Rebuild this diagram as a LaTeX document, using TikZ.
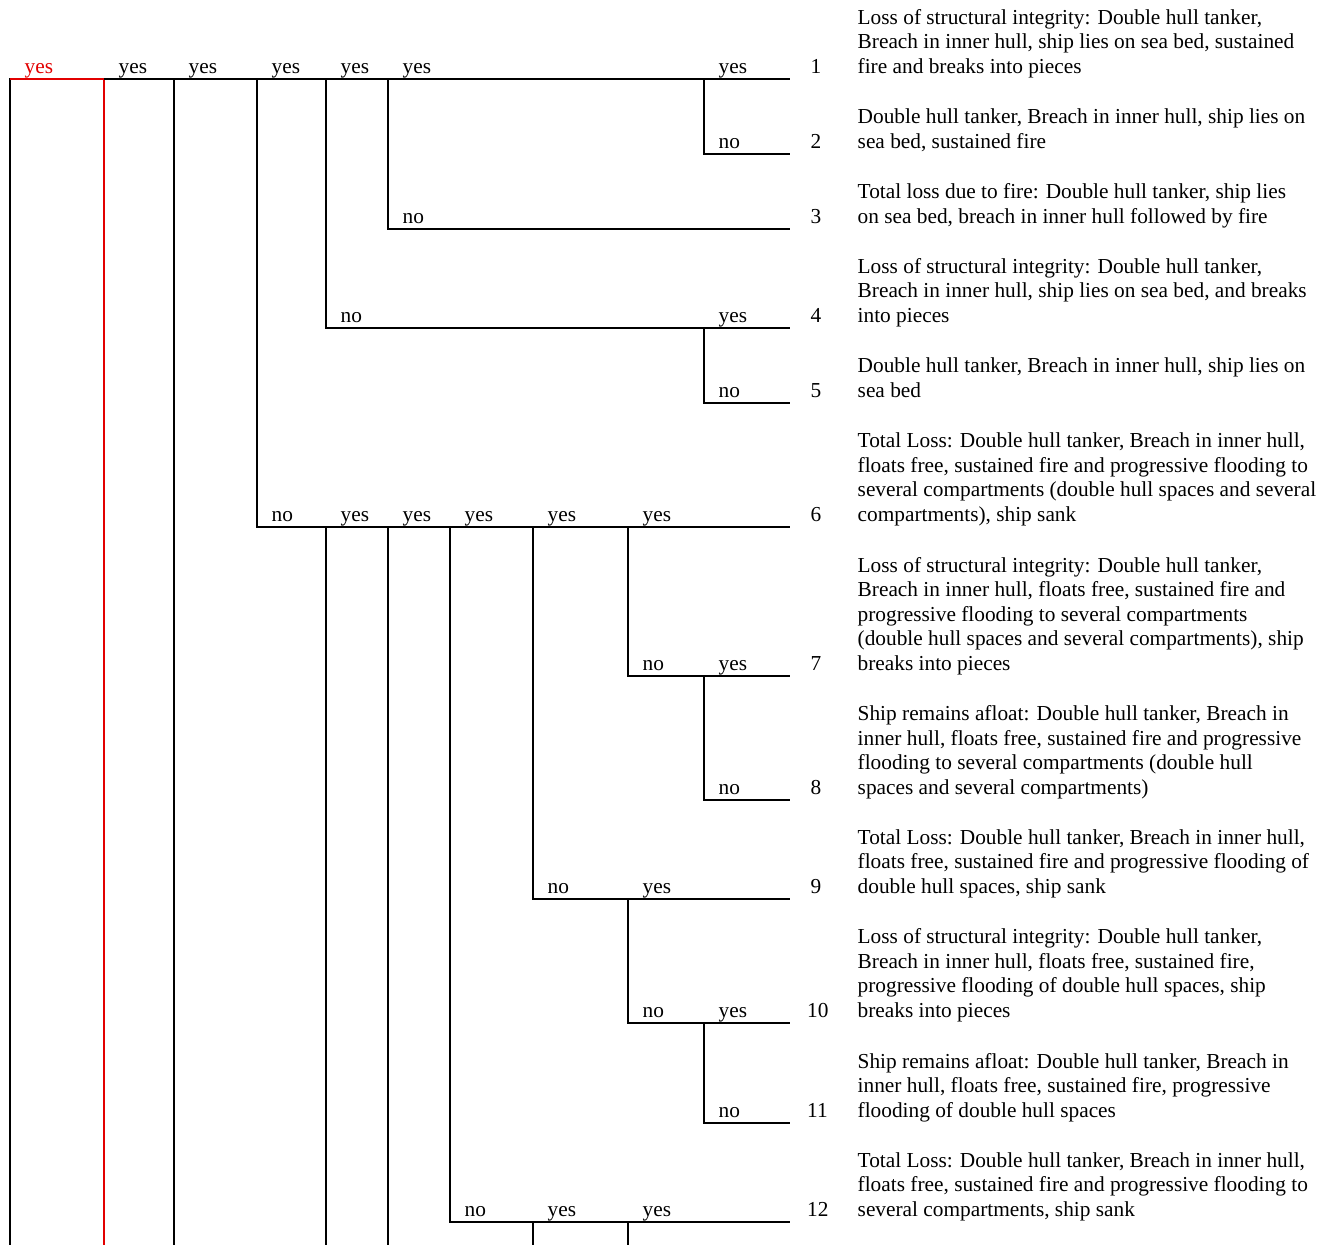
\documentclass[tikz,border=0pt]{standalone}
\usepackage{fontspec}
\setmainfont{Liberation Serif}
\definecolor{myred}{RGB}{226,0,0}
\newcommand\treefont{\fontsize{21.33}{24.6}\selectfont}
\tikzset{
  br/.style={line width=2pt},
  redbr/.style={line width=2pt, draw=myred},
  lbl/.style={anchor=base west, inner sep=0pt, font=\treefont},
  redlbl/.style={lbl, text=myred},
  num/.style={anchor=base west, inner sep=0pt, font=\treefont},
  desc/.style={anchor=base west, inner sep=0pt, font=\treefont},
}
\newcommand\desctext[1]{\parbox[b]{480pt}{\raggedright #1}}
\begin{document}
\begin{tikzpicture}[x=1pt,y=-1pt]
\useasboundingbox (0,0) rectangle (1333,1245);
% ---- junction coordinates ----
\coordinate (root) at (10,79);
\coordinate (rootT) at (10,78);
\coordinate (a104) at (104,79);
\coordinate (a174) at (174,79);
\coordinate (a257) at (257,79);
\coordinate (a326) at (326,79);
\coordinate (a388) at (388,79);
\coordinate (a704) at (704,79);
\coordinate (e1) at (790,79);
\coordinate (b704) at (704,154);  \coordinate (e2) at (790,154);
\coordinate (c388) at (388,229);  \coordinate (e3) at (790,229);
\coordinate (d326) at (326,328);  \coordinate (d704) at (704,328); \coordinate (e4) at (790,328);
\coordinate (f704) at (704,403);  \coordinate (e5) at (790,403);
\coordinate (g257) at (257,527);  \coordinate (g326) at (326,527); \coordinate (g388) at (388,527);
\coordinate (g450) at (450,527);  \coordinate (g533) at (533,527); \coordinate (g628) at (628,527);
\coordinate (e6) at (790,527);
\coordinate (h628) at (628,676);  \coordinate (h704) at (704,676); \coordinate (e7) at (790,676);
\coordinate (i704) at (704,800);  \coordinate (e8) at (790,800);
\coordinate (j533) at (533,899);  \coordinate (j628) at (628,899); \coordinate (e9) at (790,899);
\coordinate (k628) at (628,1023); \coordinate (k704) at (704,1023); \coordinate (e10) at (790,1023);
\coordinate (m704) at (704,1123); \coordinate (e11) at (790,1123);
\coordinate (n450) at (450,1222); \coordinate (n533) at (533,1222); \coordinate (n628) at (628,1222);
\coordinate (e12) at (790,1222);
% bottom free ends
\coordinate (z10) at (10,1245);   \coordinate (z104) at (104,1245); \coordinate (z174) at (174,1245);
\coordinate (z326) at (326,1245); \coordinate (z388) at (388,1245);
\coordinate (z533) at (533,1245); \coordinate (z628) at (628,1245);

% ---- branches ----
\draw[br] (rootT) -- (z10);
\draw[redbr] (root) -- (a104) -- (z104);
\draw[br] (a104) -- (e1);
\draw[br] (a174) -- (z174);
\draw[br] (a257) -- (g257) -- (e6);
\draw[br] (a326) -- (d326) -- (e4);
\draw[br] (a388) -- (c388) -- (e3);
\draw[br] (a704) -- (b704) -- (e2);
\draw[br] (d704) -- (f704) -- (e5);
\draw[br] (g326) -- (z326);
\draw[br] (g388) -- (z388);
\draw[br] (g450) -- (n450) -- (e12);
\draw[br] (g533) -- (j533) -- (e9);
\draw[br] (g628) -- (h628) -- (e7);
\draw[br] (h704) -- (i704) -- (e8);
\draw[br] (j628) -- (k628) -- (e10);
\draw[br] (k704) -- (m704) -- (e11);
\draw[br] (n533) -- (z533);
\draw[br] (n628) -- (z628);

% ---- branch labels ----
\node[redlbl] (l1a) at (24.5,73.5) {yes};
\node[lbl] (l1b) at (118.5,73.5) {yes};
\node[lbl] (l1c) at (188.5,73.5) {yes};
\node[lbl] (l1d) at (271.5,73.5) {yes};
\node[lbl] (l1e) at (340.5,73.5) {yes};
\node[lbl] (l1f) at (402.5,73.5) {yes};
\node[lbl] (l1g) at (718.5,73.5) {yes};
\node[lbl] (l2a) at (718.5,148.5) {no};
\node[lbl] (l3a) at (402.5,223.5) {no};
\node[lbl] (l4a) at (340.5,322.5) {no};
\node[lbl] (l4b) at (718.5,322.5) {yes};
\node[lbl] (l5a) at (718.5,397.5) {no};
\node[lbl] (l6a) at (271.5,521.5) {no};
\node[lbl] (l6b) at (340.5,521.5) {yes};
\node[lbl] (l6c) at (402.5,521.5) {yes};
\node[lbl] (l6d) at (464.5,521.5) {yes};
\node[lbl] (l6e) at (547.5,521.5) {yes};
\node[lbl] (l6f) at (642.5,521.5) {yes};
\node[lbl] (l7a) at (642.5,670.5) {no};
\node[lbl] (l7b) at (718.5,670.5) {yes};
\node[lbl] (l8a) at (718.5,794.5) {no};
\node[lbl] (l9a) at (547.5,893.5) {no};
\node[lbl] (l9b) at (642.5,893.5) {yes};
\node[lbl] (l10a) at (642.5,1017.5) {no};
\node[lbl] (l10b) at (718.5,1017.5) {yes};
\node[lbl] (l11a) at (718.5,1117.5) {no};
\node[lbl] (l12a) at (464.5,1216.5) {no};
\node[lbl] (l12b) at (547.5,1216.5) {yes};
\node[lbl] (l12c) at (642.5,1216.5) {yes};

% ---- outcome numbers ----
\node[num] (n1) at (810.5,73.5) {1};
\node[num] (n2) at (810.5,148.5) {2};
\node[num] (n3) at (810.5,223.5) {3};
\node[num] (n4) at (810.5,322.5) {4};
\node[num] (n5) at (810.5,397.5) {5};
\node[num] (n6) at (810.5,521.5) {6};
\node[num] (n7) at (810.5,670.5) {7};
\node[num] (n8) at (810.5,794.5) {8};
\node[num] (n9) at (810.5,893.5) {9};
\node[num] (n10) at (807,1017.5) {10};
\node[num] (n11) at (807,1117.5) {11};
\node[num] (n12) at (807,1216.5) {12};

% ---- outcome descriptions ----
\node[desc] (d1) at (857.5,73.5) {\desctext{Loss of structural integrity: Double hull tanker,\\Breach in inner hull, ship lies on sea bed, sustained\\fire and breaks into pieces}};
\node[desc] (d2) at (857.5,148.5) {\desctext{Double hull tanker, Breach in inner hull, ship lies on\\sea bed, sustained fire}};
\node[desc] (d3) at (857.5,223.5) {\desctext{Total loss due to fire: Double hull tanker, ship lies\\on sea bed, breach in inner hull followed by fire}};
\node[desc] (d4) at (857.5,322.5) {\desctext{Loss of structural integrity: Double hull tanker,\\Breach in inner hull, ship lies on sea bed, and breaks\\into pieces}};
\node[desc] (d5) at (857.5,397.5) {\desctext{Double hull tanker, Breach in inner hull, ship lies on\\sea bed}};
\node[desc] (d6) at (857.5,521.5) {\desctext{Total Loss: Double hull tanker, Breach in inner hull,\\floats free, sustained fire and progressive flooding to\\several compartments (double hull spaces and several\\compartments), ship sank}};
\node[desc] (d7) at (857.5,670.5) {\desctext{Loss of structural integrity: Double hull tanker,\\Breach in inner hull, floats free, sustained fire and\\progressive flooding to several compartments\\(double hull spaces and several compartments), ship\\breaks into pieces}};
\node[desc] (d8) at (857.5,794.5) {\desctext{Ship remains afloat: Double hull tanker, Breach in\\inner hull, floats free, sustained fire and progressive\\flooding to several compartments (double hull\\spaces and several compartments)}};
\node[desc] (d9) at (857.5,893.5) {\desctext{Total Loss: Double hull tanker, Breach in inner hull,\\floats free, sustained fire and progressive flooding of\\double hull spaces, ship sank}};
\node[desc] (d10) at (857.5,1017.5) {\desctext{Loss of structural integrity: Double hull tanker,\\Breach in inner hull, floats free, sustained fire,\\progressive flooding of double hull spaces, ship\\breaks into pieces}};
\node[desc] (d11) at (857.5,1117.5) {\desctext{Ship remains afloat: Double hull tanker, Breach in\\inner hull, floats free, sustained fire, progressive\\flooding of double hull spaces}};
\node[desc] (d12) at (857.5,1216.5) {\desctext{Total Loss: Double hull tanker, Breach in inner hull,\\floats free, sustained fire and progressive flooding to\\several compartments, ship sank}};
\end{tikzpicture}
\end{document}
